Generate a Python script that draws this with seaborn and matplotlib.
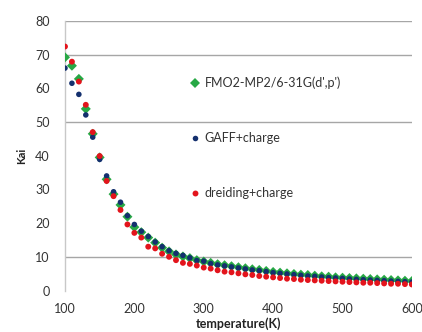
import pandas as pd
import matplotlib
matplotlib.use("Agg")
import matplotlib.pyplot as plt
import seaborn as sns

# ---- data ----
temperature = list(range(100, 601, 10))

fmo2 = [69.2, 66.7, 62.8, 53.9, 46.5, 39.5, 33.0, 28.6, 25.4, 21.9,
        18.8, 17.3, 15.7, 14.2, 12.7, 11.6, 10.7, 10.1, 9.6, 9.0,
        8.6, 8.2, 7.8, 7.5, 7.2, 6.9, 6.6, 6.3, 6.1, 5.8,
        5.5, 5.3, 5.1, 4.9, 4.7, 4.6, 4.4, 4.2, 4.1, 3.9,
        3.8, 3.7, 3.6, 3.5, 3.4, 3.3, 3.2, 3.1, 3.0, 2.9, 2.8]

gaff = [66.0, 61.5, 58.2, 52.1, 45.5, 38.9, 34.0, 29.3, 26.2, 22.2,
        19.6, 17.6, 16.0, 14.4, 13.0, 11.8, 11.0, 10.4, 9.7, 8.9,
        8.7, 8.0, 7.6, 7.3, 7.0, 6.7, 6.4, 6.1, 5.9, 5.6,
        5.3, 5.1, 4.9, 4.7, 4.5, 4.3, 4.2, 4.0, 3.8, 3.7,
        3.6, 3.4, 3.3, 3.2, 3.1, 3.0, 2.9, 2.8, 2.7, 2.6, 2.5]

dreiding = [72.4, 67.9, 62.0, 55.1, 47.0, 39.9, 32.5, 28.0, 23.9, 19.6,
            17.1, 15.7, 13.0, 12.5, 10.9, 10.0, 9.0, 8.2, 7.9, 7.4,
            6.8, 6.5, 6.0, 5.6, 5.4, 5.1, 4.8, 4.6, 4.3, 4.1,
            3.9, 3.7, 3.5, 3.4, 3.2, 3.1, 3.0, 2.9, 2.8, 2.7,
            2.6, 2.5, 2.4, 2.3, 2.3, 2.2, 2.1, 2.0, 2.0, 1.9, 1.8]

labels = ["FMO2-MP2/6-31G(d',p')", "GAFF+charge", "dreiding+charge"]
x_ticks = [100, 200, 300, 400, 500, 600]
y_ticks = [0, 10, 20, 30, 40, 50, 60, 70, 80]
grid_levels = [10, 50, 70, 80]

df = pd.concat([
    pd.DataFrame({"T": temperature, "Kai": fmo2, "series": labels[0]}),
    pd.DataFrame({"T": temperature, "Kai": gaff, "series": labels[1]}),
    pd.DataFrame({"T": temperature, "Kai": dreiding, "series": labels[2]}),
], ignore_index=True)

# ---- plot ----
sns.set_style("white")
plt.rcParams['font.family'] = ['Lato', 'DejaVu Sans']

fig = plt.figure(figsize=(4.22, 3.32), dpi=100)
ax = fig.add_axes([0.154, 0.125, 0.822, 0.812])

palette = {labels[0]: "#27a845", labels[1]: "#14306e", labels[2]: "#e3141c"}
markers = {labels[0]: "D", labels[1]: "o", labels[2]: "o"}
sizes = {labels[0]: 26, labels[1]: 16, labels[2]: 18}

sns.scatterplot(data=df, x="T", y="Kai", hue="series", style="series",
                size="series", palette=palette, markers=markers, sizes=sizes,
                linewidth=0, ax=ax, zorder=3)

for v in grid_levels:
    ax.axhline(v, color="#a6a6a6", lw=1.0, zorder=1)

ax.set_xlim(100, 600)
ax.set_ylim(0, 80)
ax.set_xticks(x_ticks)
ax.set_yticks(y_ticks)

for s in ["top", "right", "bottom"]:
    ax.spines[s].set_visible(False)
ax.spines["left"].set_color("#c8c8c8")
ax.spines["left"].set_linewidth(1.0)

ax.tick_params(axis="y", length=0, pad=11, labelsize=9, labelcolor="#333333")
ax.tick_params(axis="x", length=3, width=1, color="#d0d0d0", pad=6,
               labelsize=9, labelcolor="#333333")

ax.set_xlabel("temperature(K)", fontsize=9, fontweight="bold", color="#222222",
              labelpad=2)
ax.set_ylabel("Kai", fontsize=8, fontweight="bold", color="#222222", labelpad=6)

ax.legend(loc="upper left", bbox_to_anchor=(0.32, 0.835), frameon=False,
          fontsize=9, labelspacing=3.45, handletextpad=0.2, handlelength=1.2,
          labelcolor="#333333")

fig.savefig("out.png", dpi=100)
